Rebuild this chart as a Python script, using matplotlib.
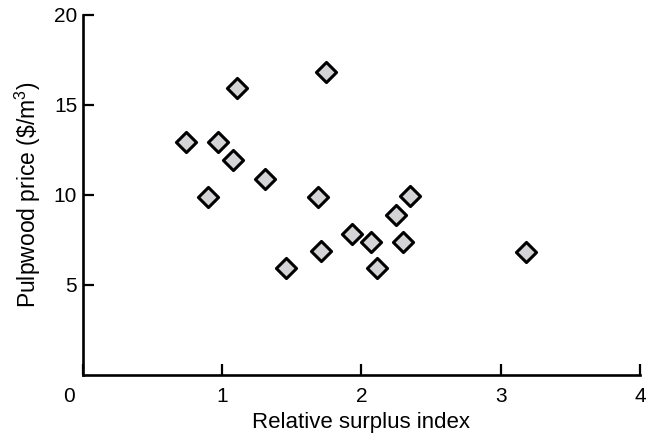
import numpy as np
import matplotlib
matplotlib.use('Agg')
import matplotlib.pyplot as plt
import matplotlib.transforms as mtransforms

plt.rcParams['font.family'] = ['Liberation Sans', 'DejaVu Sans']
plt.rcParams['mathtext.fontset'] = 'custom'
plt.rcParams['mathtext.rm'] = 'Liberation Sans'
plt.rcParams['mathtext.it'] = 'Liberation Sans'

# relative surplus index vs pulpwood price
surplus = [0.74, 0.90, 0.97, 1.08, 1.11, 1.31, 1.46, 1.69, 1.71, 1.75,
           1.93, 2.07, 2.11, 2.25, 2.30, 2.35, 3.18]
price = [12.9, 9.9, 12.9, 11.9, 15.9, 10.85, 5.95, 9.9, 6.9, 16.8,
         7.8, 7.35, 5.95, 8.9, 7.35, 9.95, 6.8]

x_ticks = [0, 1, 2, 3, 4]
y_ticks = [5, 10, 15, 20]

fig = plt.figure(figsize=(6.59, 4.40), dpi=100)
ax = fig.add_axes([0.1255, 0.148, 0.8455, 0.819])

ax.scatter(surplus, price, marker='D', s=105, facecolor='#d4d4d6',
           edgecolor='black', linewidth=2.2, zorder=3, clip_on=False)

ax.set_xlim(0, 4)
ax.set_ylim(0, 20)
ax.set_xticks(x_ticks)
ax.set_yticks(y_ticks)

for side in ['top', 'right']:
    ax.spines[side].set_visible(False)
for side in ['left', 'bottom']:
    ax.spines[side].set_linewidth(1.9)

ax.tick_params(axis='both', direction='in', length=8, width=1.6,
               labelsize=15, colors='black')
ax.tick_params(axis='x', pad=9)
ax.tick_params(axis='y', pad=4)

# the 0 at the origin sits a bit left of the corner
lbl0 = ax.get_xticklabels()[0]
lbl0.set_transform(lbl0.get_transform() +
                   mtransforms.ScaledTranslation(-0.14, 0, fig.dpi_scale_trans))

ax.set_xlabel('Relative surplus index', fontsize=16, labelpad=4)
ax.set_ylabel('Pulpwood price (\\$/m$^3$)', fontsize=16.5, labelpad=8)

fig.savefig('out.png', dpi=100)
